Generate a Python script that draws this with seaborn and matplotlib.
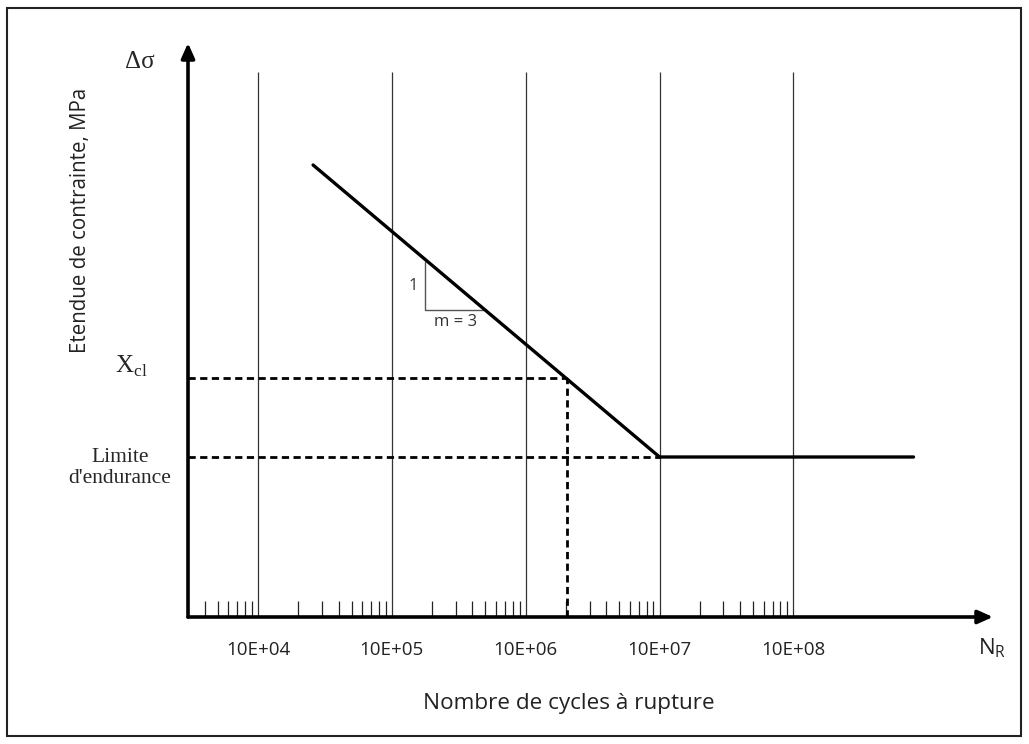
import matplotlib
matplotlib.use('Agg')
import matplotlib.pyplot as plt
import seaborn as sns
from matplotlib.patches import Rectangle

# axe des cycles (log) et axe des contraintes (schematique)
n_min = 3e3
n_max = 3.1e9
y_max = 574

# decades : lignes verticales et etiquettes
decades = [1e4, 1e5, 1e6, 1e7, 1e8]
etiquettes = ['10E+04', '10E+05', '10E+06', '10E+07', '10E+08']
haut_grille = 545

# courbe S-N : pente m = 3 puis palier
sn_cycles = [2.58e4, 1e7, 7.9e8]
sn_contrainte = [452, 160, 160]

# X_cl et limite d'endurance
n_xcl = 2.04e6
s_xcl = 239
n_lim = 1e7
s_lim = 160

# petit triangle de pente
tri_cycles = [1.77e5, 1.77e5, 4.8e5]
tri_contrainte = [355, 307, 307]

# graduations secondaires
mineures = [k * 10**e for e in range(3, 8) for k in range(2, 10) if k * 10**e > n_min]

sns.set_theme(style='white')
plt.rcParams['font.family'] = ['Open Sans', 'DejaVu Sans']

fig = plt.figure(figsize=(10.29, 7.44), dpi=100)
ax = fig.add_axes([188 / 1029, 127 / 744, 805 / 1029, 574 / 744])
ax.set_xscale('log')
ax.set_xlim(n_min, n_max)
ax.set_ylim(0, y_max)
sns.despine(ax=ax, left=True, bottom=True)

# lignes verticales des decades
ax.vlines(decades, 0, haut_grille, color='#333333', lw=0.9, zorder=1)

# courbe
sns.lineplot(x=sn_cycles, y=sn_contrainte, ax=ax, color='black', lw=2.4, sort=False, zorder=3)

# pointilles
style_tir = dict(color='black', lw=2.0, linestyle=(0, (2.6, 1.6)), zorder=2)
ax.plot([n_min, n_xcl], [s_xcl, s_xcl], **style_tir)
ax.plot([n_xcl, n_xcl], [0, s_xcl], **style_tir)
ax.plot([n_min, n_lim], [s_lim, s_lim], **style_tir)

# triangle de pente
ax.plot(tri_cycles, tri_contrainte, color='#555555', lw=1.0, zorder=2)
ax.text(1.45e5, 331, '1', fontsize=12, ha='center', va='center', color='#333333')
ax.text(2.97e5, 295, 'm = 3', fontsize=12, ha='center', va='center', color='#333333')

# fleches des axes
fleche = dict(arrowstyle='-|>,head_length=0.9,head_width=0.4', lw=2.6, color='black',
              shrinkA=0, shrinkB=0, mutation_scale=10)
ax.annotate('', xy=(1, 0), xytext=(0, 0), xycoords='axes fraction', arrowprops=fleche)
ax.annotate('', xy=(0, 1), xytext=(0, 0), xycoords='axes fraction', arrowprops=fleche)

# graduations
ax.set_yticks([])
ax.set_xticks(decades, etiquettes)
ax.set_xticks(mineures, minor=True)
ax.tick_params(axis='x', which='major', length=0, pad=17, labelsize=13.5, labelcolor='#222222')
ax.tick_params(axis='x', which='minor', direction='in', length=11.5, width=0.9, color='#222222', bottom=True)

# textes
serif = ['Liberation Serif', 'DejaVu Serif']
fig.text(140 / 1029, 1 - 62 / 744, '\u0394\u03c3', fontsize=18, family=serif, ha='center', va='center')
fig.text(131 / 1029, 1 - 366 / 744, r'X$_\mathregular{cl}$', fontsize=18, family=serif, ha='center', va='center')
fig.text(120 / 1029, 1 - 468 / 744, "Limite\nd'endurance", fontsize=15.5, family=serif,
         ha='center', va='center', multialignment='center', linespacing=1.1)
fig.text(81 / 1029, 1 - 220 / 744, 'Etendue de contrainte, MPa', fontsize=14.8, rotation=90,
         ha='center', va='center', color='#222222')
fig.text(569 / 1029, 1 - 703 / 744, 'Nombre de cycles \u00e0 rupture', fontsize=16.2,
         ha='center', va='center', color='#222222')
fig.text(978 / 1029, 1 - 648 / 744, r'N$_\mathregular{R}$', fontsize=16, ha='left', va='center', color='#222222')

# cadre
fig.add_artist(Rectangle((7 / 1029, 8 / 744), 1014 / 1029, 728 / 744, transform=fig.transFigure,
                         fill=False, lw=1.5, ec='#222222'))

fig.savefig('out.png', dpi=100)
